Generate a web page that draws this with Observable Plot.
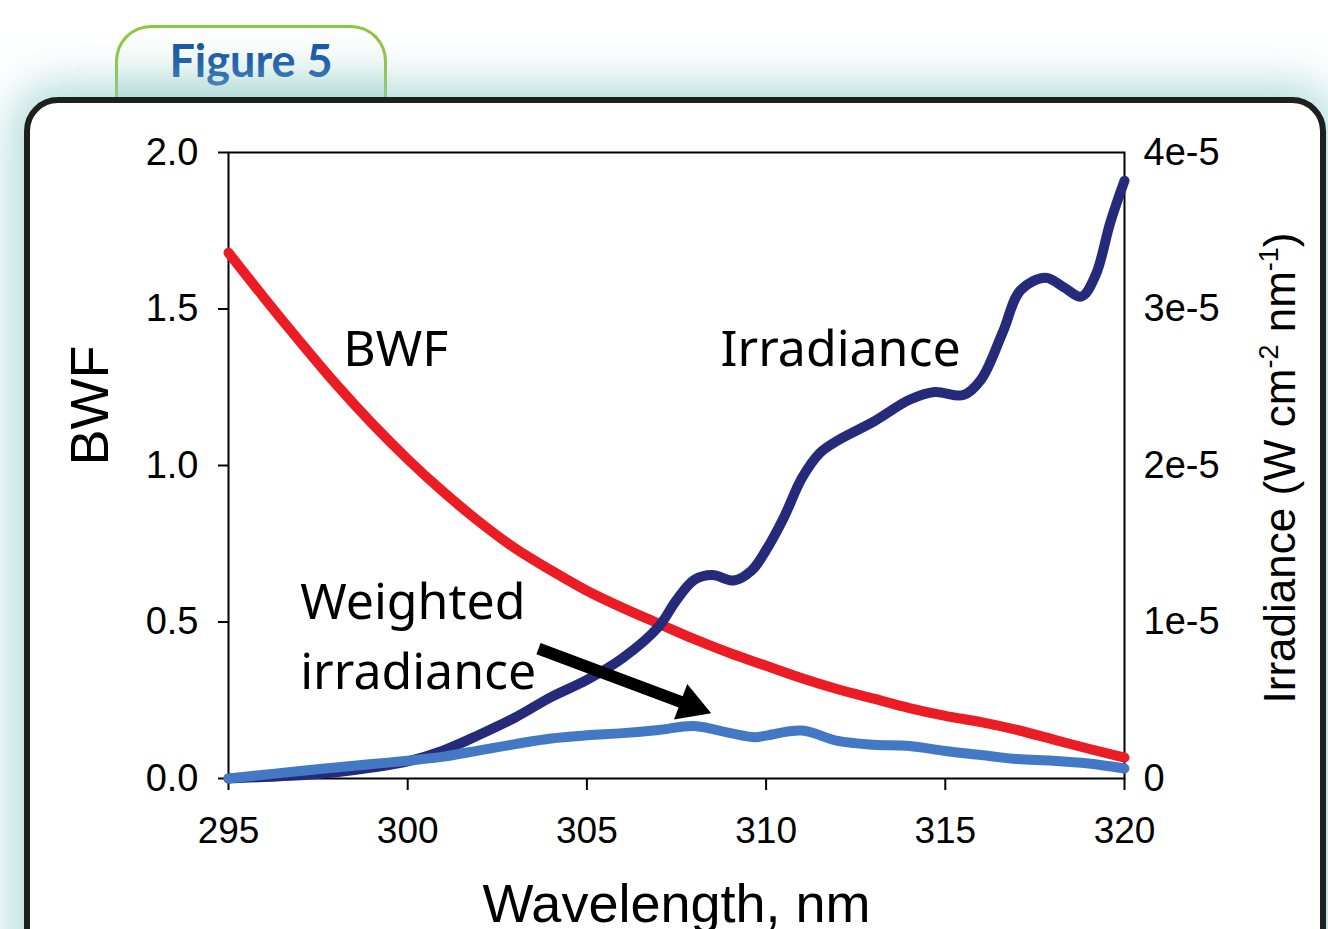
<!DOCTYPE html>
<html><head><meta charset="utf-8">
<script src="https://cdn.jsdelivr.net/npm/d3@7"></script>
<script src="https://cdn.jsdelivr.net/npm/@observablehq/plot@0.6"></script>
<style>
html,body{margin:0;padding:0;background:#fff;}
#page{position:relative;width:1328px;height:929px;overflow:hidden;background:#fff;}
#tab{position:absolute;left:115px;top:25px;width:272px;height:90px;border:3px solid #8dc63f;border-bottom:none;border-radius:36px 36px 0 0;background:linear-gradient(#ffffff 0%,#f6fbf8 45%,#cfe8e6 100%);box-sizing:border-box;z-index:1;}
#tab span{position:absolute;left:0;right:0;top:10px;text-align:center;font-family:Lato,'Open Sans',sans-serif;font-weight:700;font-size:45px;line-height:44px;color:#1756a5;}
#frame{position:absolute;left:24px;top:97px;width:1302px;height:900px;border:6px solid #1f1f1f;border-radius:34px;background:#fff;box-sizing:border-box;box-shadow:0 0 45px 14px rgba(150,205,205,.7);z-index:2;}
#chart{position:absolute;left:0;top:0;z-index:3;}
</style></head>
<body><div id="page">
<div id="tab"><span>Figure 5</span></div>
<div id="frame"></div>
<div id="chart"></div>
</div>
<script>
// Axis ticks
const wavelengthTicks = [295, 300, 305, 310, 315, 320];
const bwfTicks = [0, 0.5, 1.0, 1.5, 2.0];
const irrTickLabels = ["0", "1e-5", "2e-5", "3e-5", "4e-5"];
const irrAxisMax = 4; // in units of 1e-5, top of right axis

// BWF (left axis)
const bwfWl  = [295,296,297,298,299,300,301,302,303,304,305,306,307,308,309,310,311,312,313,314,315,316,317,318,319,320];
const bwfVal = [1.68,1.535,1.395,1.26,1.135,1.02,0.915,0.82,0.735,0.665,0.60,0.545,0.495,0.445,0.40,0.36,0.32,0.285,0.255,0.225,0.20,0.18,0.155,0.125,0.095,0.067];

// Irradiance (right axis), units of 1e-5 W cm-2 nm-1
const irrWl  = [295,296,297,298,299,300,301,302,303,304,305,306,307,307.5,308,308.5,309.1,309.6,310,310.5,311,311.5,312,313,314,314.7,315.5,316,316.6,317.1,317.8,318.3,318.8,319.2,319.6,320];
const irrVal = [0.0,0.01,0.02,0.04,0.07,0.11,0.18,0.28,0.39,0.52,0.63,0.77,0.97,1.14,1.27,1.30,1.265,1.33,1.46,1.67,1.92,2.08,2.16,2.28,2.42,2.47,2.45,2.55,2.85,3.12,3.20,3.14,3.08,3.22,3.55,3.82];

// Weighted irradiance (plotted against left axis)
const wWl  = [295,296,297,298,299,300,301,302,303,304,305,306,307,308,309,309.7,310,311,312,313,314,315,316,317,318,319,320];
const wVal = [0.0,0.012,0.024,0.035,0.046,0.057,0.07,0.09,0.11,0.128,0.138,0.145,0.155,0.168,0.145,0.132,0.137,0.153,0.12,0.108,0.104,0.088,0.075,0.062,0.057,0.048,0.032];

// Annotations (data coordinates: wavelength, BWF)
const annoText = ["BWF", "Irradiance", "Weighted", "irradiance"];
const annoX = [298.2, 308.73, 297.0, 297.0];
const annoY = [1.319, 1.319, 0.511, 0.2875];
const arrowFrom = [303.65, 0.415];
const arrowTo = [307.9, 0.233];

const irrToLeft = bwfTicks[bwfTicks.length - 1] / irrAxisMax;

const bwfData = bwfWl.map((x, i) => ({x, y: bwfVal[i]}));
const irrData = irrWl.map((x, i) => ({x, y: irrVal[i] * irrToLeft}));
const wData = wWl.map((x, i) => ({x, y: wVal[i]}));
const annoData = annoText.map((t, i) => ({t, x: annoX[i], y: annoY[i]}));

const chart = Plot.plot({
  width: 1328, height: 929,
  marginLeft: 228, marginRight: 204, marginTop: 152, marginBottom: 151,
  style: {background: "transparent", fontFamily: "'Liberation Sans', Arial, sans-serif", color: "#000", overflow: "visible"},
  x: {domain: [295, 320]},
  y: {domain: [0, 2]},
  marks: [
    Plot.axisX({ticks: wavelengthTicks, tickSize: 12, tickPadding: 26, fontSize: 37, label: null, strokeWidth: 2}),
    Plot.axisY({ticks: bwfTicks, tickFormat: d3.format(".1f"), tickSize: 10, tickPadding: 20, fontSize: 38, label: null, strokeWidth: 2}),
    Plot.axisY({anchor: "right", ticks: bwfTicks, tickFormat: d => irrTickLabels[bwfTicks.indexOf(d)], tickSize: 0, tickPadding: 19, fontSize: 38, label: null}),
    Plot.frame({stroke: "#000", strokeWidth: 2}),
    Plot.line(bwfData, {x: "x", y: "y", stroke: "#ec1c24", strokeWidth: 10, curve: "monotone-x"}),
    Plot.line(irrData, {x: "x", y: "y", stroke: "#262a7b", strokeWidth: 10, curve: "catmull-rom"}),
    Plot.line(wData, {x: "x", y: "y", stroke: "#4378c4", strokeWidth: 10, curve: "catmull-rom"}),
    Plot.link([0], {x1: () => arrowFrom[0], y1: () => arrowFrom[1], x2: () => arrowTo[0], y2: () => arrowTo[1], stroke: "#000", strokeWidth: 12}),
    Plot.dot([0], {x: () => arrowTo[0], y: () => arrowTo[1], symbol: "triangle", r: 14, fill: "#000", stroke: "none", rotate: 110.5}),
    Plot.text(annoData, {x: "x", y: "y", text: "t", textAnchor: "start", lineAnchor: "bottom", fontSize: 50, fontFamily: "'Noto Sans', sans-serif", fill: "#000"}),
    Plot.text(["BWF"], {frameAnchor: "left", dx: -138, rotate: -90, lineAnchor: "middle", fontSize: 54, fill: "#000"}),
    Plot.text(["Wavelength, nm"], {frameAnchor: "bottom", dy: 126, lineAnchor: "middle", fontSize: 54, fill: "#000"})
  ]
});
document.getElementById("chart").appendChild(chart);

// Right axis title with superscripts
const svg = d3.select(chart.tagName.toLowerCase() === "svg" ? chart : chart.querySelector("svg"));
const t = svg.append("text")
  .attr("transform", "translate(1295,468) rotate(-90)")
  .attr("text-anchor", "middle")
  .attr("font-size", 44)
  .attr("font-family", "'Liberation Sans', Arial, sans-serif")
  .attr("fill", "#000");
t.append("tspan").text("Irradiance (W cm");
t.append("tspan").attr("font-size", 27).attr("dy", -17).text("-2");
t.append("tspan").attr("dy", 17).text(" nm");
t.append("tspan").attr("font-size", 27).attr("dy", -17).text("-1");
t.append("tspan").attr("dy", 17).text(")");
</script>
</body></html>
